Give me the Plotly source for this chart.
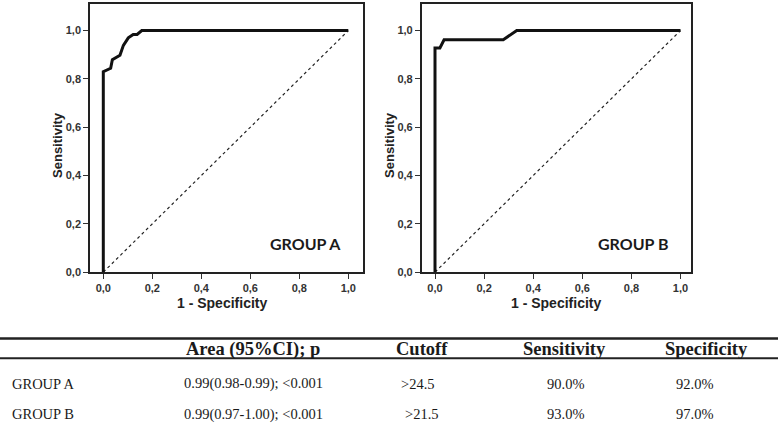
import plotly.graph_objects as go

# ROC curve data
roc_a_fpr = [0, 0, 0.03, 0.037, 0.068, 0.082, 0.102, 0.122, 0.138, 0.157, 1.0]
roc_a_tpr = [0, 0.83, 0.844, 0.879, 0.898, 0.939, 0.970, 0.984, 0.984, 1.0, 1.0]
roc_b_fpr = [0, 0, 0.02, 0.037, 0.278, 0.333, 1.0]
roc_b_tpr = [0, 0.928, 0.928, 0.962, 0.962, 1.0, 1.0]
ref_line = [0, 1]

tick_vals = [0, 0.2, 0.4, 0.6, 0.8, 1.0]
tick_text = ["0,0", "0,2", "0,4", "0,6", "0,8", "1,0"]

panel_labels = ["GROUP A", "GROUP B"]

table_header = ["", "Area (95%CI); p", "Cutoff", "Sensitivity", "Specificity"]
row_groups = ["GROUP A", "GROUP B"]
row_area = ["0.99(0.98-0.99); <0.001", "0.99(0.97-1.00); <0.001"]
row_cutoff = [">24.5", ">21.5"]
row_sens = ["90.0%", "93.0%"]
row_spec = ["92.0%", "97.0%"]

W, H = 778, 431


def px_x(p):
    return p / W


def px_y(p):
    return 1 - p / H


fig = go.Figure()
line_col = "#111111"
for i, (fx, ty) in enumerate([(roc_a_fpr, roc_a_tpr), (roc_b_fpr, roc_b_tpr)]):
    xa = "x" if i == 0 else "x2"
    ya = "y" if i == 0 else "y2"
    fig.add_trace(go.Scatter(x=ref_line, y=ref_line, mode="lines", xaxis=xa, yaxis=ya,
                             line=dict(color="#222", width=1.2, dash="dot"), showlegend=False,
                             hoverinfo="skip"))
    fig.add_trace(go.Scatter(x=fx, y=ty, mode="lines", xaxis=xa, yaxis=ya,
                             line=dict(color=line_col, width=3), showlegend=False))

tickfont = dict(family="Liberation Sans", size=11, color="#333", weight="bold")
common_axis = dict(showgrid=False, zeroline=False, showline=True, linecolor="#222", linewidth=1.6,
                   mirror=True, ticks="outside", ticklen=5, tickwidth=1.3, tickcolor="#333",
                   tickvals=tick_vals, ticktext=tick_text, tickfont=tickfont)

panels = [
    dict(left=90, right=363, zero=103.3, scale=245),
    dict(left=421.7, right=690.7, zero=435, scale=245.5),
]
top_px, bottom_px = 4, 276
y_top_val = (bottom_px - top_px) / 245

layout = dict(width=W, height=H, margin=dict(l=0, r=0, t=0, b=0),
              paper_bgcolor="white", plot_bgcolor="white")
for i, p in enumerate(panels):
    sfx = "" if i == 0 else "2"
    xr = [(p["left"] - p["zero"]) / p["scale"], (p["right"] - p["zero"]) / p["scale"]]
    layout["xaxis" + sfx] = dict(common_axis, domain=[px_x(p["left"]), px_x(p["right"])],
                                  range=xr, anchor="y" + sfx)
    layout["yaxis" + sfx] = dict(common_axis, domain=[px_y(bottom_px), px_y(top_px)],
                                  range=[0, y_top_val], anchor="x" + sfx)
fig.update_layout(**layout)

annotations = []
xtitle_font = dict(family="Liberation Sans", size=14, color="#222", weight="bold")
ytitle_font = dict(family="Liberation Sans", size=13, color="#222", weight="bold")
y_title_x = [58, 390]
x_title_x = [222, 556]
label_x = [305, 633]
for i in range(2):
    annotations.append(dict(x=px_x(x_title_x[i]), y=px_y(307), xref="paper", yref="paper",
                            text="1 - Specificity", showarrow=False, font=xtitle_font,
                            xanchor="center", yanchor="middle"))
    annotations.append(dict(x=px_x(y_title_x[i]), y=px_y(147), xref="paper", yref="paper",
                            text="Sensitivity", showarrow=False, font=ytitle_font, textangle=-90,
                            xanchor="center", yanchor="middle"))
    annotations.append(dict(x=px_x(label_x[i]), y=px_y(247), xref="paper", yref="paper",
                            text=panel_labels[i], showarrow=False,
                            font=dict(family="Lato", size=16, color="#1a1a1a", weight="bold"),
                            xanchor="center", yanchor="middle"))

# table
head_font = dict(family="Liberation Serif", size=18.5, color="#1a1a1a", weight="bold")
body_font = dict(family="Liberation Serif", size=14.5, color="#1a1a1a")
head_x = [10, 253, 422, 564, 706]
for j, t in enumerate(table_header):
    if t:
        annotations.append(dict(x=px_x(head_x[j]), y=px_y(354), xref="paper", yref="paper",
                                text=t, showarrow=False, font=head_font,
                                xanchor="center", yanchor="middle"))
row_y = [389, 420]
cut_x = [418, 422]
spec_x = [694, 694]
for r in range(2):
    cells = [(row_groups[r], 10, "left"), (row_area[r], 253, "center"),
             (row_cutoff[r], cut_x[r], "center"), (row_sens[r], 565, "center"),
             (row_spec[r], spec_x[r], "center")]
    for txt, xx, anc in cells:
        annotations.append(dict(x=px_x(xx), y=px_y(row_y[r]), xref="paper", yref="paper",
                                text=txt.replace("<", "&lt;").replace(">", "&gt;"),
                                showarrow=False, font=body_font,
                                xanchor=anc, yanchor="middle"))
fig.update_layout(annotations=annotations)

fig.update_layout(shapes=[
    dict(type="line", xref="paper", yref="paper", x0=0, x1=1, y0=px_y(343.3), y1=px_y(343.3),
         line=dict(color="#222", width=2.5)),
    dict(type="line", xref="paper", yref="paper", x0=0, x1=1, y0=px_y(363.3), y1=px_y(363.3),
         line=dict(color="#222", width=2)),
])

fig.write_html("out.html", config={"displayModeBar": False},
               post_script="document.body.style.margin='0';document.body.style.overflow='hidden';")
